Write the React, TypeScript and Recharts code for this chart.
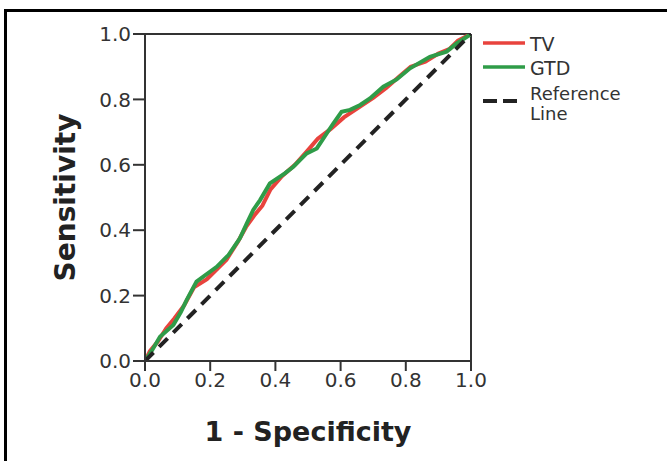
import React from 'react';
import { LineChart, Line, XAxis, YAxis, Label, ReferenceLine } from 'recharts';

// ROC points
const tvFpr = [0, 0.015, 0.04, 0.065, 0.09, 0.12, 0.15, 0.19, 0.215, 0.25, 0.285, 0.31, 0.335, 0.36, 0.385, 0.42, 0.46, 0.5, 0.53, 0.57, 0.61, 0.64, 0.67, 0.7, 0.74, 0.78, 0.815, 0.86, 0.9, 0.935, 0.96, 1];
const tvSens = [0, 0.03, 0.06, 0.1, 0.13, 0.17, 0.225, 0.25, 0.275, 0.31, 0.365, 0.41, 0.445, 0.475, 0.525, 0.565, 0.6, 0.645, 0.68, 0.71, 0.745, 0.765, 0.785, 0.805, 0.835, 0.87, 0.9, 0.915, 0.94, 0.955, 0.98, 1];

const gtdFpr = [0, 0.02, 0.046, 0.087, 0.11, 0.128, 0.158, 0.22, 0.256, 0.291, 0.312, 0.332, 0.353, 0.383, 0.429, 0.455, 0.496, 0.527, 0.578, 0.603, 0.629, 0.66, 0.69, 0.731, 0.772, 0.813, 0.874, 0.925, 0.956, 1];
const gtdSens = [0, 0.03, 0.074, 0.11, 0.15, 0.187, 0.243, 0.288, 0.324, 0.375, 0.42, 0.462, 0.492, 0.543, 0.574, 0.594, 0.635, 0.65, 0.727, 0.762, 0.768, 0.783, 0.803, 0.839, 0.861, 0.895, 0.93, 0.946, 0.971, 1];

const refFpr = [0, 1];
const refSens = [0, 1];

const ticks = [0, 0.2, 0.4, 0.6, 0.8, 1.0];

const toPoints = (xs: number[], ys: number[]) => xs.map((x, i) => ({ x, y: ys[i] }));

const tvData = toPoints(tvFpr, tvSens);
const gtdData = toPoints(gtdFpr, gtdSens);
const refData = toPoints(refFpr, refSens);

const FONT = '"DejaVu Sans", sans-serif';
const AXIS = '#333';
const RED = '#e8433d';
const GREEN = '#2f9c48';

// legend drawn next to the plot, in page pixels
const Legend = () => (
  <svg width={180} height={130} style={{ position: 'absolute', left: 480, top: 25 }}>
    <line x1={3} x2={45} y1={18} y2={18} stroke={RED} strokeWidth={3.5} />
    <text x={50} y={26} fontSize={19} fontFamily={FONT} fill="#333">TV</text>
    <line x1={3} x2={45} y1={42} y2={42} stroke={GREEN} strokeWidth={3.5} />
    <text x={50} y={50} fontSize={19} fontFamily={FONT} fill="#333">GTD</text>
    <line x1={3} x2={37} y1={76} y2={76} stroke="#222" strokeWidth={4} strokeDasharray="14 6" />
    <text x={50} y={75} fontSize={18} fontFamily={FONT} fill="#333">Reference</text>
    <text x={50} y={95} fontSize={18} fontFamily={FONT} fill="#333">Line</text>
  </svg>
);

export default function App() {
  return (
    <div style={{ position: 'absolute', left: 0, top: 0, width: 667, height: 461, background: '#fff', overflow: 'hidden' }}>
      <div style={{ position: 'absolute', left: 4, top: 9, width: 700, height: 500, borderTop: '3px solid #000', borderLeft: '3px solid #000' }} />
      <LineChart width={667} height={461} margin={{ top: 34, right: 196, bottom: 0, left: 0 }}>
        <XAxis
          type="number"
          dataKey="x"
          domain={[0, 1]}
          ticks={ticks}
          tickFormatter={(v: number) => v.toFixed(1)}
          stroke={AXIS}
          strokeWidth={2}
          tickSize={10}
          tick={{ fill: '#333', fontSize: 20, fontFamily: FONT }}
          height={100}
          allowDataOverflow
        >
          <Label value="1 - Specificity" position="insideBottom" offset={20} style={{ fill: '#222', fontSize: 27, fontWeight: 700, fontFamily: FONT }} />
        </XAxis>
        <YAxis
          type="number"
          dataKey="y"
          domain={[0, 1]}
          ticks={ticks}
          tickFormatter={(v: number) => v.toFixed(1)}
          stroke={AXIS}
          strokeWidth={2}
          tickSize={12}
          tick={{ fill: '#333', fontSize: 20, fontFamily: FONT }}
          width={145}
          allowDataOverflow
        >
          <Label value="Sensitivity" angle={-90} position="insideLeft" offset={65} style={{ textAnchor: 'middle', fill: '#222', fontSize: 28, fontWeight: 700, fontFamily: FONT }} />
        </YAxis>
        <ReferenceLine y={1} stroke={AXIS} strokeWidth={2} />
        <ReferenceLine x={1} stroke={AXIS} strokeWidth={2} />
        <Line data={tvData} dataKey="y" stroke={RED} strokeWidth={4} dot={false} isAnimationActive={false} />
        <Line data={gtdData} dataKey="y" stroke={GREEN} strokeWidth={4} dot={false} isAnimationActive={false} />
        <Line data={refData} dataKey="y" stroke="#222" strokeWidth={4} strokeDasharray="12 8" dot={false} isAnimationActive={false} />
      </LineChart>
      <Legend />
    </div>
  );
}
